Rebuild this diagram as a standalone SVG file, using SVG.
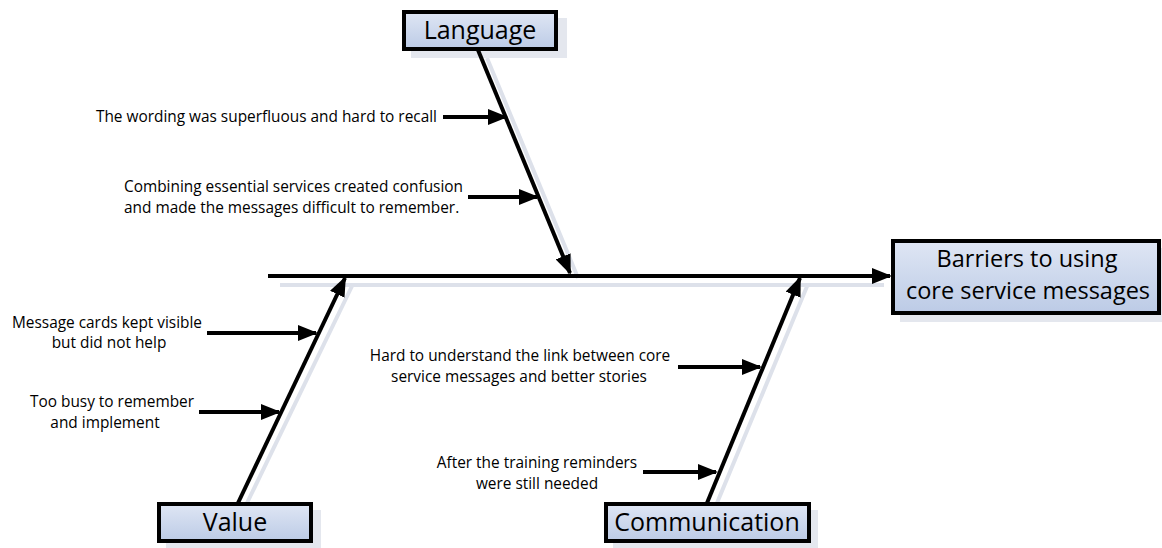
<svg xmlns="http://www.w3.org/2000/svg" width="1162" height="548" viewBox="0 0 1162 548">
  <defs>
    <linearGradient id="boxFill" x1="0" y1="0" x2="0" y2="1">
      <stop offset="0" stop-color="#dfe6f4"/>
      <stop offset="1" stop-color="#bccbe6"/>
    </linearGradient>
    <marker id="arrow" markerUnits="userSpaceOnUse" markerWidth="20" markerHeight="16" refX="18" refY="8" orient="auto">
      <path d="M0,0 L20,8 L0,16 z" fill="#000"/>
    </marker>
  </defs>
  <style>
    .box { fill: url(#boxFill); stroke: #000; stroke-width: 4; }
    .shadow { fill: #e4e7ee; stroke: none; }
    .lineShadow { stroke: #dde1ea; stroke-width: 4; fill: none; }
    .bone { stroke: #000; stroke-width: 4; fill: none; }
    .cause { stroke: #000; stroke-width: 4; fill: none; }
    .title { font-family: "Open Sans", "Noto Sans", sans-serif; font-size: 25px; fill: #000; text-anchor: middle; }
    .effectTitle { font-size: 23.5px; }
    .label { font-family: "Open Sans", "Noto Sans", sans-serif; font-size: 15.4px; fill: #000; }
  </style>
  <rect width="1162" height="548" fill="#fff"/>

  <!-- shadows -->
  <g id="shadows">
    <line class="lineShadow" x1="280" y1="285" x2="884" y2="285"/>
    <line class="lineShadow" x1="487" y1="58" x2="578" y2="278"/>
    <line class="lineShadow" x1="247" y1="503" x2="353" y2="284"/>
    <line class="lineShadow" x1="717" y1="503" x2="808" y2="284"/>
    <rect class="shadow" x="411" y="18" width="156" height="40"/>
    <rect class="shadow" x="900" y="248" width="262" height="74"/>
    <rect class="shadow" x="166" y="510" width="155" height="38"/>
    <rect class="shadow" x="613" y="510" width="205" height="38"/>
  </g>

  <g id="connectors">
    <line class="bone" x1="268" y1="276" x2="890" y2="276" marker-end="url(#arrow)"/>
    <line class="bone" x1="478" y1="50" x2="570" y2="273" marker-end="url(#arrow)"/>
    <line class="bone" x1="238" y1="503" x2="345" y2="278" marker-end="url(#arrow)"/>
    <line class="bone" x1="707" y1="503" x2="800" y2="278" marker-end="url(#arrow)"/>
    <line class="cause" x1="443" y1="117" x2="506" y2="117" marker-end="url(#arrow)"/>
    <line class="cause" x1="468" y1="197" x2="537" y2="197" marker-end="url(#arrow)"/>
    <line class="cause" x1="207" y1="333" x2="316" y2="333" marker-end="url(#arrow)"/>
    <line class="cause" x1="199" y1="412" x2="279" y2="412" marker-end="url(#arrow)"/>
    <line class="cause" x1="678" y1="367" x2="760" y2="367" marker-end="url(#arrow)"/>
    <line class="cause" x1="643" y1="472" x2="716" y2="472" marker-end="url(#arrow)"/>
  </g>

  <g id="effect">
    <rect class="box" x="893" y="241" width="266" height="72"/>
    <text class="title effectTitle" x="1027" y="267">Barriers to using</text>
    <text class="title effectTitle" x="1028" y="299">core service messages</text>
  </g>

  <g id="language">
    <rect class="box" x="404" y="12" width="152" height="37"/>
    <text class="title" x="480" y="39">Language</text>
  </g>

  <g id="value">
    <rect class="box" x="159" y="504" width="152" height="37"/>
    <text class="title" x="235" y="531">Value</text>
  </g>

  <g id="communication">
    <rect class="box" x="606" y="504" width="203" height="37"/>
    <text class="title" x="707" y="531">Communication</text>
  </g>

  <g id="cause-wording">
    <text class="label" x="437" y="122" text-anchor="end">The wording was superfluous and hard to recall</text>
  </g>
  <g id="cause-combining">
    <text class="label" x="124" y="192">Combining essential services created confusion</text>
    <text class="label" x="124" y="213">and made the messages difficult to remember.</text>
  </g>
  <g id="cause-cards">
    <text class="label" x="107" y="328" text-anchor="middle">Message cards kept visible</text>
    <text class="label" x="109" y="348" text-anchor="middle">but did not help</text>
  </g>
  <g id="cause-busy">
    <text class="label" x="112" y="407" text-anchor="middle">Too busy to remember</text>
    <text class="label" x="105" y="428" text-anchor="middle">and implement</text>
  </g>
  <g id="cause-link">
    <text class="label" x="520" y="361" text-anchor="middle">Hard to understand the link between core</text>
    <text class="label" x="519" y="382" text-anchor="middle">service messages and better stories</text>
  </g>
  <g id="cause-training">
    <text class="label" x="537" y="468" text-anchor="middle">After the training reminders</text>
    <text class="label" x="537" y="489" text-anchor="middle">were still needed</text>
  </g>
</svg>
